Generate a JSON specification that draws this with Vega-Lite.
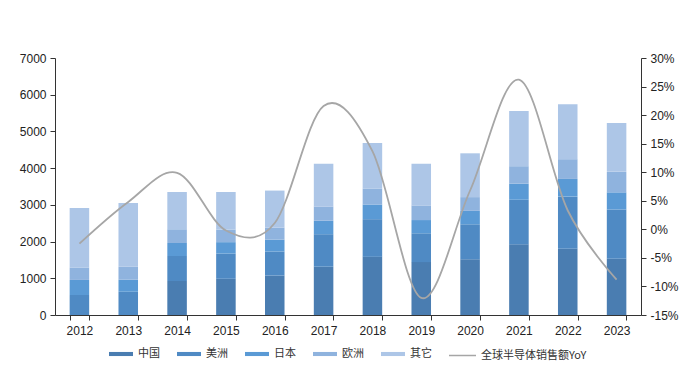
{
  "$schema": "https://vega.github.io/schema/vega-lite/v6.json",
  "width": 586,
  "height": 257,
  "autosize": {"type": "none"},
  "padding": {"left": 55, "top": 58, "right": 57, "bottom": 71},
  "background": "white",
  "config": {
    "view": {"stroke": null},
    "font": "Liberation Sans",
    "axis": {"labelFont": "Liberation Sans", "labelFontSize": 12, "labelColor": "#222", "domainColor": "#333", "tickColor": "#333", "grid": false, "title": null}
  },
  "datasets": {
    "sales": [
      {"year": "2012", "region": "中国", "value": 0},
      {"year": "2012", "region": "美洲", "value": 544},
      {"year": "2012", "region": "日本", "value": 411},
      {"year": "2012", "region": "欧洲", "value": 333},
      {"year": "2012", "region": "其它", "value": 1628},
      {"year": "2013", "region": "中国", "value": 0},
      {"year": "2013", "region": "美洲", "value": 630},
      {"year": "2013", "region": "日本", "value": 330},
      {"year": "2013", "region": "欧洲", "value": 355},
      {"year": "2013", "region": "其它", "value": 1735},
      {"year": "2014", "region": "中国", "value": 925},
      {"year": "2014", "region": "美洲", "value": 685},
      {"year": "2014", "region": "日本", "value": 348},
      {"year": "2014", "region": "欧洲", "value": 377},
      {"year": "2014", "region": "其它", "value": 1015},
      {"year": "2015", "region": "中国", "value": 986},
      {"year": "2015", "region": "美洲", "value": 686},
      {"year": "2015", "region": "日本", "value": 312},
      {"year": "2015", "region": "欧洲", "value": 342},
      {"year": "2015", "region": "其它", "value": 1024},
      {"year": "2016", "region": "中国", "value": 1075},
      {"year": "2016", "region": "美洲", "value": 655},
      {"year": "2016", "region": "日本", "value": 323},
      {"year": "2016", "region": "欧洲", "value": 327},
      {"year": "2016", "region": "其它", "value": 1009},
      {"year": "2017", "region": "中国", "value": 1315},
      {"year": "2017", "region": "美洲", "value": 886},
      {"year": "2017", "region": "日本", "value": 366},
      {"year": "2017", "region": "欧洲", "value": 383},
      {"year": "2017", "region": "其它", "value": 1172},
      {"year": "2018", "region": "中国", "value": 1584},
      {"year": "2018", "region": "美洲", "value": 1026},
      {"year": "2018", "region": "日本", "value": 400},
      {"year": "2018", "region": "欧洲", "value": 430},
      {"year": "2018", "region": "其它", "value": 1248},
      {"year": "2019", "region": "中国", "value": 1441},
      {"year": "2019", "region": "美洲", "value": 785},
      {"year": "2019", "region": "日本", "value": 360},
      {"year": "2019", "region": "欧洲", "value": 398},
      {"year": "2019", "region": "其它", "value": 1139},
      {"year": "2020", "region": "中国", "value": 1517},
      {"year": "2020", "region": "美洲", "value": 954},
      {"year": "2020", "region": "日本", "value": 365},
      {"year": "2020", "region": "欧洲", "value": 375},
      {"year": "2020", "region": "其它", "value": 1193},
      {"year": "2021", "region": "中国", "value": 1925},
      {"year": "2021", "region": "美洲", "value": 1214},
      {"year": "2021", "region": "日本", "value": 437},
      {"year": "2021", "region": "欧洲", "value": 477},
      {"year": "2021", "region": "其它", "value": 1506},
      {"year": "2022", "region": "中国", "value": 1803},
      {"year": "2022", "region": "美洲", "value": 1421},
      {"year": "2022", "region": "日本", "value": 482},
      {"year": "2022", "region": "欧洲", "value": 538},
      {"year": "2022", "region": "其它", "value": 1496},
      {"year": "2023", "region": "中国", "value": 1531},
      {"year": "2023", "region": "美洲", "value": 1343},
      {"year": "2023", "region": "日本", "value": 467},
      {"year": "2023", "region": "欧洲", "value": 558},
      {"year": "2023", "region": "其它", "value": 1330}
    ],
    "yoy": [
      {"year": "2012", "yoy": -0.025},
      {"year": "2013", "yoy": 0.048},
      {"year": "2014", "yoy": 0.099},
      {"year": "2015", "yoy": -0.002},
      {"year": "2016", "yoy": 0.011},
      {"year": "2017", "yoy": 0.216},
      {"year": "2018", "yoy": 0.137},
      {"year": "2019", "yoy": -0.12},
      {"year": "2020", "yoy": 0.068},
      {"year": "2021", "yoy": 0.262},
      {"year": "2022", "yoy": 0.033},
      {"year": "2023", "yoy": -0.088}
    ]
  },
  "layer": [
    {
      "data": {"name": "sales"},
      "transform": [
        {"calculate": "indexof(['中国','美洲','日本','欧洲','其它'], datum.region)", "as": "stackOrder"}
      ],
      "mark": {"type": "bar"},
      "encoding": {
        "x": {
          "field": "year", "type": "nominal",
          "scale": {"paddingInner": 0.6, "paddingOuter": 0.3},
          "axis": {"labelAngle": 0, "tickBand": "extent", "tickSize": 5, "labelPadding": 5, "domainColor": "#333"}
        },
        "y": {
          "field": "value", "type": "quantitative", "stack": "zero",
          "scale": {"domain": [0, 7000]},
          "axis": {"values": [0, 1000, 2000, 3000, 4000, 5000, 6000, 7000], "format": "d", "tickSize": 5, "labelPadding": 4}
        },
        "color": {
          "field": "region", "type": "nominal",
          "sort": ["中国", "美洲", "日本", "欧洲", "其它"],
          "scale": {"domain": ["中国", "美洲", "日本", "欧洲", "其它"], "range": ["#4a7db1", "#4f8ac4", "#5a9ad5", "#8fb3de", "#adc6e7"]},
          "legend": {
            "title": null, "orient": "none", "legendX": 53, "legendY": 283, "direction": "horizontal",
            "symbolType": "M-1,-0.17H1V0.17H-1Z", "symbolSize": 576,
            "labelFont": "Noto Sans CJK SC", "labelFontSize": 11, "labelColor": "#333",
            "columnPadding": 16, "labelOffset": 4
          }
        },
        "order": {"field": "stackOrder", "type": "quantitative", "sort": "ascending"}
      }
    },
    {
      "data": {"name": "yoy"},
      "mark": {"type": "line", "interpolate": "cardinal", "strokeWidth": 1.8},
      "encoding": {
        "x": {"field": "year", "type": "nominal"},
        "y": {
          "field": "yoy", "type": "quantitative",
          "scale": {"domain": [-0.15, 0.3]},
          "axis": {"orient": "right", "values": [-0.15, -0.1, -0.05, 0, 0.05, 0.1, 0.15, 0.2, 0.25, 0.3], "labelExpr": "round(datum.value*100) + '%'", "tickSize": 5, "labelPadding": 4}
        },
        "stroke": {
          "datum": "全球半导体销售额YoY", "type": "nominal",
          "scale": {"range": ["#a6a6a6"]},
          "legend": {
            "title": null, "orient": "none", "legendX": 393, "legendY": 283,
            "symbolType": "stroke", "symbolSize": 729, "symbolStrokeWidth": 1.5,
            "labelFont": "Noto Sans CJK SC", "labelFontSize": 11, "labelColor": "#333", "labelOffset": 4
          }
        }
      }
    }
  ],
  "resolve": {"scale": {"y": "independent"}}
}
